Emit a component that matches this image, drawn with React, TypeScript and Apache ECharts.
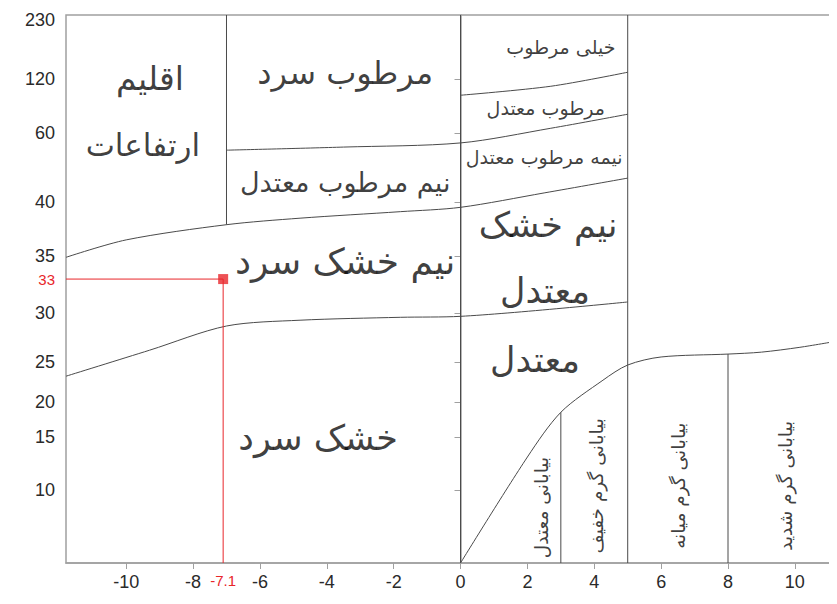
import React, { useEffect, useRef } from "react";
import * as echarts from "echarts";

// ---------- axis definitions ----------
const X_MIN = -11.8;
const X_MAX = 11.2;
const X_TICKS = [-10, -8, -6, -4, -2, 0, 2, 4, 6, 8, 10];
const Y_TICKS = [10, 15, 20, 25, 30, 35, 40, 60, 120, 230];
// non-uniform vertical scale of the diagram (value -> internal position)
const Y_KNOT_VALUES = [0, 10, 15, 20, 25, 30, 35, 40, 60, 120, 230, 240];
const Y_KNOT_POS = [0, 73, 126.3, 161.3, 201.3, 249.7, 307, 361.3, 430.3, 484.3, 543, 548.3];
const Y_TOP = 240;

// ---------- station ----------
const STATION_X = -7.1;
const STATION_Y = 33;

// ---------- boundary curves ----------
const CURVE_A_X = [-11.8, -10, -7, -4.8, -1.8, 0, 2.5, 5];
const CURVE_A_Y = [34.9, 36.5, 37.9, 38.5, 39.1, 39.5, 42.6, 46.9];
const CURVE_B_X = [-7, -3.5, 0, 2.7, 5];
const CURVE_B_Y = [55.0, 55.9, 57.1, 65.2, 80.8];
const CURVE_C_X = [0, 2.7, 5];
const CURVE_C_Y = [101.9, 111.9, 132.6];
const CURVE_D_X = [-11.8, -9.3, -7, -4.8, -1.8, 0, 5];
const CURVE_D_Y = [23.2, 26.2, 28.7, 29.3, 29.6, 29.7, 31.0];
const CURVE_E_X = [0, 2, 3, 4.26, 5, 6, 8, 9, 10.15, 11.2];
const CURVE_E_Y = [0, 13.1, 18.5, 22.7, 24.6, 25.5, 25.8, 26.0, 26.5, 27.1];

// vertical boundaries: x, from value, to value
const VERT_X = [-7, 0, 5, 3, 8];
const VERT_FROM = [37.9, 0, 0, 0, 0];
const VERT_TO = [Y_TOP, Y_TOP, Y_TOP, 18.5, 25.8];

// ---------- region labels ----------
const LABEL_TEXT = [
  "اقلیم", "ارتفاعات", "مرطوب سرد", "نیم مرطوب معتدل", "نیم خشک سرد", "خشک سرد",
  "خیلی مرطوب", "مرطوب معتدل", "نیمه مرطوب معتدل", "نیم خشک", "معتدل", "معتدل",
  "بیابانی معتدل", "بیابانی گرم خفیف", "بیابانی گرم میانه", "بیابانی گرم شدید",
];
const LABEL_X = [-9.29, -9.5, -3.45, -3.45, -3.45, -4.26, 3.0, 2.55, 2.5, 2.62, 2.53, 2.23, 2.41, 4.08, 6.51, 9.71];
const LABEL_Y = [121, 56.4, 132, 45.7, 34.5, 14.9, 179, 87.4, 53, 37.9, 32.0, 25.2, 7.6, 10.4, 10.4, 10.4];
const LABEL_SIZE = [33, 31, 32, 27, 36, 35, 19, 19, 19, 35, 35, 35, 18.5, 18.5, 18.5, 18.5];
const LABEL_ROT = [0, 0, 0, 0, 0, 0, 0, 0, 0, 0, 0, 0, 90, 90, 90, 90];

function toPos(v: number): number {
  const n = Y_KNOT_VALUES.length;
  if (v <= Y_KNOT_VALUES[0]) return Y_KNOT_POS[0];
  for (let i = 1; i < n; i++) {
    if (v <= Y_KNOT_VALUES[i]) {
      const t = (v - Y_KNOT_VALUES[i - 1]) / (Y_KNOT_VALUES[i] - Y_KNOT_VALUES[i - 1]);
      return Y_KNOT_POS[i - 1] + t * (Y_KNOT_POS[i] - Y_KNOT_POS[i - 1]);
    }
  }
  return Y_KNOT_POS[n - 1];
}

const LINE_COLOR = "#4a4a4a";
const RED = "#e8262a";
const PERSIAN_FONT = "DejaVu Sans";
const AXIS_FONT = "Liberation Sans, Arial, sans-serif";

function curveSeries(xs: number[], ys: number[], smooth: number | boolean) {
  return {
    type: "line",
    data: xs.map((x, i) => [x, toPos(ys[i])]),
    smooth,
    symbol: "none",
    lineStyle: { color: LINE_COLOR, width: 1 },
    silent: true,
    z: 2,
  };
}

export default function App() {
  const ref = useRef<HTMLDivElement>(null);
  useEffect(() => {
    if (!ref.current) return;
    const chart = echarts.init(ref.current, null, { renderer: "svg" });

    const yLabelValues = [...Y_TICKS, STATION_Y];
    const yLabelPos = yLabelValues.map(toPos);

    const series: any[] = [];
    series.push(curveSeries(CURVE_A_X, CURVE_A_Y, 0.3));
    series.push(curveSeries(CURVE_B_X, CURVE_B_Y, 0.3));
    series.push(curveSeries(CURVE_C_X, CURVE_C_Y, 0.3));
    series.push(curveSeries(CURVE_D_X, CURVE_D_Y, 0.3));
    series.push(curveSeries(CURVE_E_X, CURVE_E_Y, 0.3));
    VERT_X.forEach((x, i) => {
      series.push(curveSeries([x, x], [VERT_FROM[i], VERT_TO[i]], false));
    });
    // station guide lines
    series.push({
      type: "line",
      data: [
        [X_MIN, toPos(STATION_Y)],
        [STATION_X, toPos(STATION_Y)],
        [STATION_X, 0],
      ],
      symbol: "none",
      lineStyle: { color: RED, width: 1 },
      silent: true,
      z: 3,
    });
    series.push({
      type: "scatter",
      data: [[STATION_X, toPos(STATION_Y)]],
      symbol: "rect",
      symbolSize: 10,
      itemStyle: { color: RED },
      silent: true,
      z: 4,
    });
    // region labels
    series.push({
      type: "scatter",
      symbolSize: 0,
      silent: true,
      z: 5,
      data: LABEL_TEXT.map((t, i) => ({
        name: t,
        value: [LABEL_X[i], toPos(LABEL_Y[i])],
        label: { fontSize: LABEL_SIZE[i], rotate: LABEL_ROT[i] },
      })),
      label: {
        show: true,
        position: "inside",
        formatter: "{b}",
        color: "#0d0d0d",
        fontFamily: PERSIAN_FONT,
        align: "center",
        verticalAlign: "middle",
      },
    });

    chart.setOption({
      animation: false,
      grid: {
        left: 66,
        right: 2,
        top: 15,
        bottom: 41,
        show: true,
        borderColor: "#a0a0a0",
        borderWidth: 1.5,
      },
      xAxis: {
        type: "value",
        min: X_MIN,
        max: X_MAX,
        axisLine: { show: true, lineStyle: { color: "#a0a0a0", width: 1.5 } },
        axisTick: {
          show: true,
          length: 6,
          customValues: X_TICKS,
          lineStyle: { color: "#a0a0a0" },
        },
        axisLabel: {
          customValues: [...X_TICKS, STATION_X],
          margin: 10,
          color: "#2a2a2a",
          fontSize: 18,
          fontFamily: AXIS_FONT,
          formatter: (v: number) =>
            Math.abs(v - STATION_X) < 1e-6 ? "{r|" + STATION_X + "}" : String(v),
          rich: {
            r: { color: RED, fontSize: 15, fontFamily: AXIS_FONT },
          },
        },
        splitLine: { show: false },
      },
      yAxis: {
        type: "value",
        min: 0,
        max: toPos(Y_TOP),
        axisLine: { show: true, lineStyle: { color: "#a0a0a0", width: 1.5 } },
        axisTick: {
          show: true,
          length: 6,
          customValues: Y_TICKS.filter((v) => v !== 230).map(toPos),
          lineStyle: { color: "#a0a0a0" },
        },
        axisLabel: {
          customValues: yLabelPos,
          margin: 11,
          color: "#2a2a2a",
          fontSize: 18,
          fontFamily: AXIS_FONT,
          formatter: (p: number) => {
            let best = 0;
            let bd = Infinity;
            yLabelPos.forEach((q, i) => {
              const d = Math.abs(q - p);
              if (d < bd) {
                bd = d;
                best = i;
              }
            });
            const v = yLabelValues[best];
            return v === STATION_Y ? "{r|" + v + "}" : String(v);
          },
          rich: {
            r: { color: RED, fontSize: 15, fontFamily: AXIS_FONT },
          },
        },
        splitLine: { show: false },
      },
      series,
    });
    return () => chart.dispose();
  }, []);
  return <div ref={ref} style={{ width: 837, height: 604, margin: -8 }} />;
}
